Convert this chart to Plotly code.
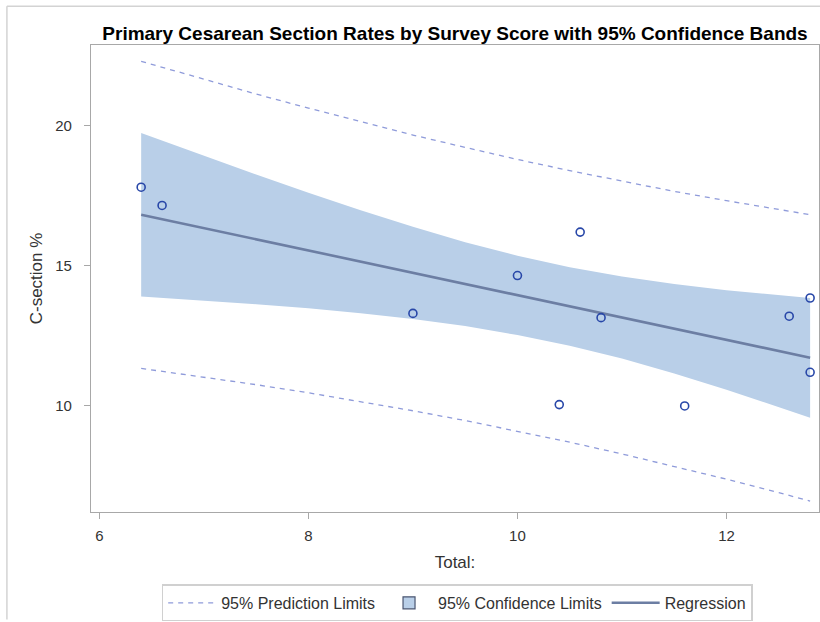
import plotly.graph_objects as go

# Observed hospitals: survey score (Total:) vs primary C-section rate
score = [6.4, 6.6, 9.0, 10.0, 10.4, 10.6, 10.8, 11.6, 12.6, 12.8, 12.8]
csection = [17.8, 17.15, 13.3, 14.65, 10.05, 16.2, 13.15, 10.0, 13.2, 13.85, 11.2]

# Fitted regression with 95% confidence and prediction limits
fit_x = [6.4, 7.0, 7.5, 8.0, 8.5, 9.0, 9.5, 10.0, 10.5, 11.0, 11.5, 12.0, 12.5, 12.8]
fit_y = [16.82, 16.34, 15.94, 15.54, 15.14, 14.74, 14.35, 13.95, 13.55, 13.15, 12.75, 12.35, 11.96, 11.72]
ci_low = [13.90, 13.76, 13.63, 13.48, 13.31, 13.10, 12.85, 12.53, 12.15, 11.69, 11.16, 10.58, 9.97, 9.58]
ci_high = [19.73, 18.92, 18.25, 17.60, 16.98, 16.39, 15.84, 15.36, 14.95, 14.62, 14.35, 14.13, 13.95, 13.85]
pi_low = [11.34, 11.03, 10.76, 10.47, 10.16, 9.83, 9.48, 9.10, 8.71, 8.29, 7.85, 7.39, 6.91, 6.61]
pi_high = [22.29, 21.64, 21.12, 20.62, 20.13, 19.66, 19.22, 18.79, 18.39, 18.01, 17.65, 17.32, 17.00, 16.82]

x_ticks = [6, 8, 10, 12]
y_ticks = [10, 15, 20]

band_color = "#B9CFE8"
fit_color = "#6C7EA3"
pred_color = "#8F9BDA"
marker_color = "#2847A8"
frame_color = "#A8A8A8"
font_family = "Liberation Sans, Arial, sans-serif"

fig = go.Figure()

# Confidence band (filled between lower and upper limit)
fig.add_trace(go.Scatter(
    x=fit_x, y=ci_low, mode="lines", line=dict(width=0, color=band_color),
    showlegend=False, hoverinfo="skip",
))
fig.add_trace(go.Scatter(
    x=fit_x, y=ci_high, mode="lines", line=dict(width=0, color=band_color),
    fill="tonexty", fillcolor=band_color, showlegend=False,
))

# Prediction limits
fig.add_trace(go.Scatter(
    x=fit_x, y=pi_high, mode="lines",
    line=dict(color=pred_color, width=1.3, dash="5px,5px"),
    name="95% Prediction Limits", legendgroup="pi", legendrank=1,
))
fig.add_trace(go.Scatter(
    x=fit_x, y=pi_low, mode="lines",
    line=dict(color=pred_color, width=1.3, dash="5px,5px"),
    showlegend=False, legendgroup="pi",
))

# Legend swatch for the confidence band
fig.add_trace(go.Scatter(
    x=[None], y=[None], mode="markers", name="95% Confidence Limits",
    marker=dict(symbol="square", size=12, color=band_color,
                line=dict(width=1.2, color="#4A5570")),
    legendrank=2,
))

# Regression line
fig.add_trace(go.Scatter(
    x=fit_x, y=fit_y, mode="lines", line=dict(color=fit_color, width=2.6),
    name="Regression", legendrank=3,
))

# Observations
fig.add_trace(go.Scatter(
    x=score, y=csection, mode="markers", showlegend=False,
    marker=dict(symbol="circle-open", size=8, color=marker_color,
                line=dict(width=1.6, color=marker_color)),
))

axis_common = dict(
    showgrid=False, zeroline=False, showline=True, mirror=True,
    linecolor=frame_color, linewidth=1.3,
    ticks="outside", ticklen=6, tickcolor=frame_color, tickwidth=1,
    tickfont=dict(size=15, color="#333333", family=font_family),
)

fig.update_layout(
    width=820, height=622,
    margin=dict(l=91, r=1, t=45, b=107),
    paper_bgcolor="white", plot_bgcolor="white",
    font=dict(family=font_family, color="#333333"),
    title=dict(
        text="<b>Primary Cesarean Section Rates by Survey Score with 95% Confidence Bands</b>",
        x=0.5, xref="paper", xanchor="center",
        y=1, yref="paper", yanchor="bottom", pad=dict(b=5),
        font=dict(size=19, color="black", family=font_family),
    ),
    xaxis=dict(
        **axis_common, range=[5.92, 12.885], tickvals=x_ticks, ticklabelstandoff=4,
        title=dict(text="Total:", font=dict(size=17, color="#333333"), standoff=12),
    ),
    yaxis=dict(
        **axis_common, range=[6.22, 22.87], tickvals=y_ticks, ticklabelstandoff=9,
        title=dict(text="C-section %", font=dict(size=17, color="#333333"), standoff=8),
    ),
    legend=dict(
        orientation="h", x=0.503, xanchor="center", y=-0.155, yanchor="top",
        bordercolor="#D0D0D0", borderwidth=1.5,
        font=dict(size=16, color="#333333", family=font_family),
        itemwidth=48, traceorder="normal",
    ),
    shapes=[
        dict(type="line", xref="paper", yref="paper",
             x0=-0.1155, x1=-0.1155, y0=-0.23, y1=1.083,
             line=dict(color="#D3D3D3", width=1.5)),
        dict(type="line", xref="paper", yref="paper",
             x0=-0.1155, x1=1.01, y0=1.083, y1=1.083,
             line=dict(color="#D3D3D3", width=1.5)),
    ],
)

fig.write_html("out.html")
